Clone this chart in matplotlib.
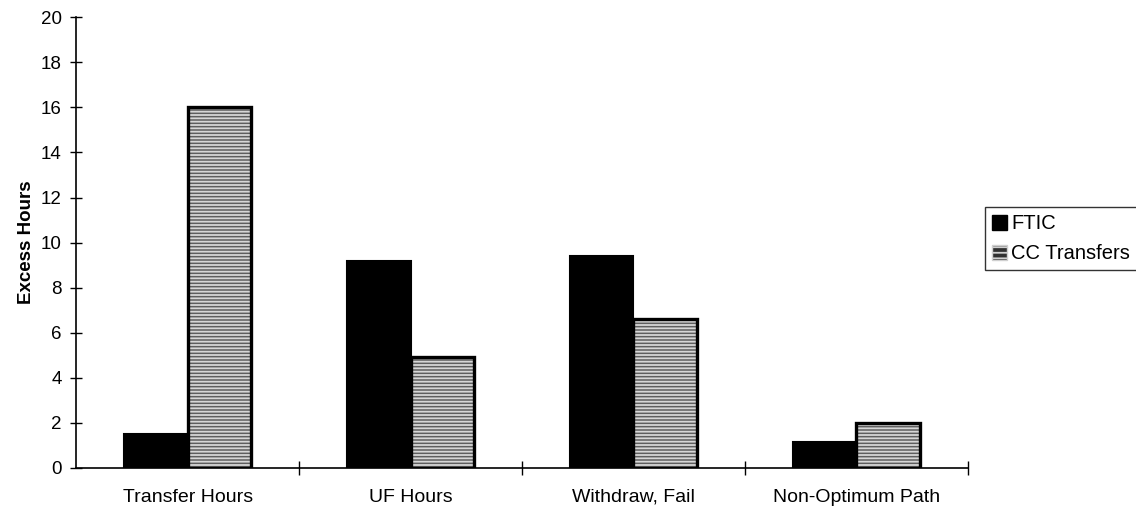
import matplotlib.pyplot as plt
import numpy as np
from matplotlib.patches import Patch

plt.rcParams['font.family'] = ['Liberation Sans', 'DejaVu Sans']

# Excess hours by category
categories = ['Transfer Hours', 'UF Hours', 'Withdraw, Fail', 'Non-Optimum Path']
ftic = [1.5, 9.2, 9.4, 1.15]
cc_transfers = [16.0, 4.9, 6.6, 2.0]

fig = plt.figure(figsize=(11.36, 5.08), dpi=100)
ax = fig.add_axes([0.067, 0.079, 0.785, 0.887])

x = np.arange(len(categories))
w = 0.285

ax.bar(x - w / 2, ftic, w, color='black', edgecolor='black', linewidth=1.5, label='FTIC')

# striped gray fill, then a black outline on top
plt.rcParams['hatch.linewidth'] = 1.3
ax.bar(x + w / 2, cc_transfers, w, color='#5e5e5e', edgecolor='#d6d6d6',
       hatch='-----', linewidth=0)
ax.bar(x + w / 2, cc_transfers, w, fill=False, edgecolor='black', linewidth=2.4)

handles = [Patch(facecolor='black', edgecolor='black', label='FTIC'),
           Patch(facecolor='#303030', edgecolor='#d0d0d0', hatch='---', label='CC Transfers')]

ax.set_xlim(-0.5, 3.5)
ax.set_ylim(0, 20)
ax.set_yticks(np.arange(0, 21, 2))
ax.set_xticks(x)
ax.set_xticklabels(categories, fontsize=14)
ax.set_xticks(np.arange(0.5, 4, 1), minor=True)
ax.tick_params(axis='x', which='major', length=0, pad=15)
ax.tick_params(axis='x', which='minor', direction='inout', length=10, width=1)
ax.tick_params(axis='y', direction='inout', length=9, width=1, labelsize=13.5, pad=6)

ax.set_ylabel('Excess Hours', fontsize=13.5, fontweight='bold', labelpad=4)

for s in ['top', 'right']:
    ax.spines[s].set_visible(False)
for s in ['left', 'bottom']:
    ax.spines[s].set_linewidth(1.2)

leg = fig.legend(handles=handles, loc='upper left', bbox_to_anchor=(0.867, 0.592),
                 fontsize=14.5, frameon=True, fancybox=False, handlelength=0.75,
                 handleheight=0.8, handletextpad=0.2, borderpad=0.35, labelspacing=0.55,
                 borderaxespad=0)
leg.get_frame().set_edgecolor('black')
leg.get_frame().set_linewidth(1)

fig.savefig('out.png', dpi=100)
